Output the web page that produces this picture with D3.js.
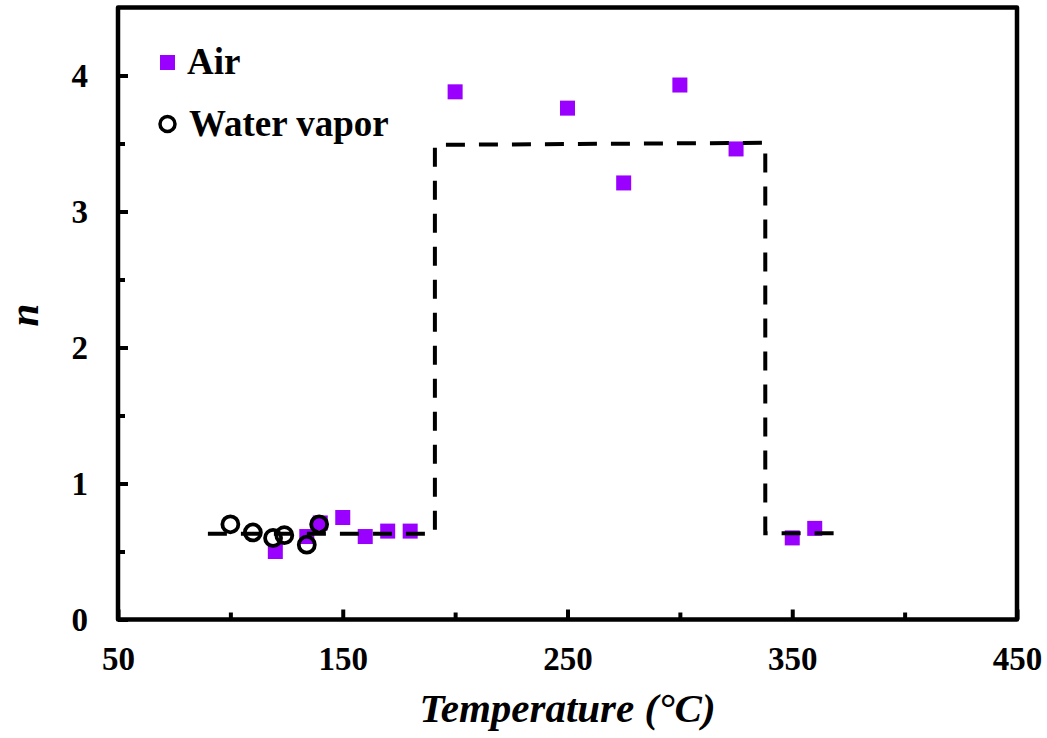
<!DOCTYPE html>
<html>
<head>
<meta charset="utf-8">
<script src="https://cdn.jsdelivr.net/npm/d3@7"></script>
<style>
  html, body { margin: 0; padding: 0; background: #fff; }
  svg { display: block; }
  .tick text { font-family: "Liberation Serif", "Times New Roman", serif; font-weight: bold; }
</style>
</head>
<body>
<svg id="chart" width="1047" height="738"></svg>
<script>
// Reaction order n versus temperature, in air and in water vapour
const airT   = [120, 134, 140, 150, 160, 170, 180, 200, 250, 275, 300, 325, 350, 360];
const airN   = [0.50, 0.61, 0.71, 0.75, 0.61, 0.65, 0.65, 3.88, 3.76, 3.21, 3.93, 3.46, 0.60, 0.67];
const vaporT = [100, 110, 119, 124, 134, 139.5];
const vaporN = [0.70, 0.64, 0.60, 0.62, 0.55, 0.70];
// step-shaped guide line
const guideT = [90, 191, 191, 338, 338, 372];
const guideN = [0.63, 0.63, 3.49, 3.505, 0.635, 0.635];

const xMajor = [50, 150, 250, 350, 450];
const xMinor = [100, 200, 300, 400];
const yMajor = [0, 1, 2, 3, 4];
const yMinor = [0.5, 1.5, 2.5, 3.5];

const svg = d3.select("#chart");
const L = 118, R = 1017, T = 7.5, B = 619.5;
const x = d3.scaleLinear().domain([50, 450]).range([L, R]);
const y = d3.scaleLinear().domain([0, 4.5]).range([B, T]);
const FONT = '"Liberation Serif", "Times New Roman", serif';

// axes with inward ticks
function styleAxis(g) {
  g.select(".domain").remove();
  g.selectAll(".tick line").attr("stroke", "#000").attr("stroke-width", 4);
  g.selectAll(".tick text").attr("fill", "#000").attr("font-size", 33);
}
svg.append("g").attr("transform", `translate(0,${B})`)
  .call(d3.axisBottom(x).tickValues(xMajor).tickSize(-10).tickPadding(27).tickFormat(d3.format("d")))
  .call(styleAxis);
svg.append("g").attr("transform", `translate(0,${B})`)
  .call(d3.axisBottom(x).tickValues(xMinor).tickSize(-7).tickFormat(""))
  .call(styleAxis);
svg.append("g").attr("transform", `translate(${L},0)`)
  .call(d3.axisLeft(y).tickValues(yMajor).tickSize(-10).tickPadding(30).tickFormat(d3.format("d")))
  .call(styleAxis);
svg.append("g").attr("transform", `translate(${L},0)`)
  .call(d3.axisLeft(y).tickValues(yMinor).tickSize(-7).tickFormat(""))
  .call(styleAxis);
svg.selectAll(".tick text").attr("font-family", FONT).attr("font-weight", "bold");

// plot frame
svg.append("rect")
  .attr("x", L).attr("y", T).attr("width", R - L).attr("height", B - T)
  .attr("fill", "none").attr("stroke", "#000").attr("stroke-width", 4.5)
  .attr("stroke-linejoin", "round");

// air: purple squares
const sq = 15;
svg.append("g").selectAll("rect")
  .data(airT.map((t, i) => [t, airN[i]]))
  .join("rect")
  .attr("x", d => x(d[0]) - sq / 2).attr("y", d => y(d[1]) - sq / 2)
  .attr("width", sq).attr("height", sq)
  .attr("fill", "#9900ff");

// dashed step line
const line = d3.line().x(d => x(d[0])).y(d => y(d[1]));
svg.append("path")
  .datum(guideT.map((t, i) => [t, guideN[i]]))
  .attr("d", line)
  .attr("fill", "none").attr("stroke", "#000").attr("stroke-width", 4)
  .attr("stroke-dasharray", "19,14");

// water vapour: open circles
svg.append("g").selectAll("circle")
  .data(vaporT.map((t, i) => [t, vaporN[i]]))
  .join("circle")
  .attr("cx", d => x(d[0])).attr("cy", d => y(d[1])).attr("r", 8)
  .attr("fill", "none").attr("stroke", "#000").attr("stroke-width", 3.8);

// legend
const lg = svg.append("g").attr("font-family", FONT).attr("font-weight", "bold").attr("font-size", 37);
lg.append("rect").attr("x", 160).attr("y", 55).attr("width", sq).attr("height", sq).attr("fill", "#9900ff");
lg.append("text").attr("x", 187).attr("y", 74).text("Air");
lg.append("circle").attr("cx", 167.5).attr("cy", 124).attr("r", 7.5)
  .attr("fill", "none").attr("stroke", "#000").attr("stroke-width", 3.5);
lg.append("text").attr("x", 189).attr("y", 136).text("Water vapor");

// axis titles
svg.append("text")
  .attr("x", (L + R) / 2).attr("y", 722)
  .attr("text-anchor", "middle")
  .attr("font-family", FONT).attr("font-weight", "bold").attr("font-style", "italic")
  .attr("font-size", 41)
  .text("Temperature (°C)");
svg.append("text")
  .attr("transform", "translate(24,315) rotate(-90)")
  .attr("text-anchor", "middle")
  .attr("dominant-baseline", "central")
  .attr("font-family", FONT).attr("font-weight", "bold").attr("font-style", "italic")
  .attr("font-size", 41)
  .text("n");
</script>
</body>
</html>
